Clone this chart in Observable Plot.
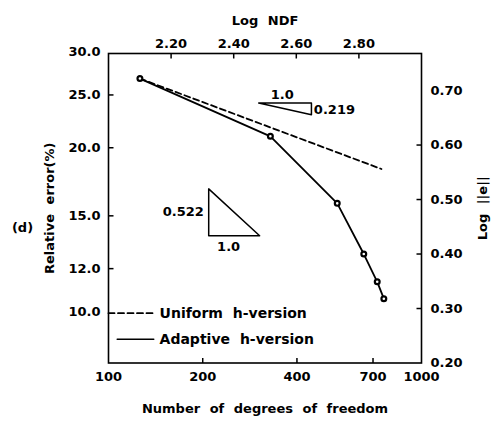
<!DOCTYPE html>
<html><head><meta charset="utf-8">
<script src="https://cdn.jsdelivr.net/npm/d3@7"></script>
<script src="https://cdn.jsdelivr.net/npm/@observablehq/plot@0.6"></script>
<style>body{margin:0;background:#fff}svg{display:block}</style>
</head><body><div id="chart"></div>
<script>
// Adaptive h-version (NDF, Log||e||)
const adaptiveNDF = [126, 329, 538, 654, 722, 758];
const adaptiveLogE = [0.722, 0.616, 0.493, 0.400, 0.349, 0.318];
// Uniform h-version
const uniformNDF = [126, 745];
const uniformLogE = [0.722, 0.556];
// Axis ticks
const bottomTicks = [100, 200, 400, 700, 1000];
const topTicks = [2.2, 2.4, 2.6, 2.8];
const rightTicks = [0.2, 0.3, 0.4, 0.5, 0.6, 0.7];
const leftTicks = [10, 12, 15, 20, 25, 30];
const errOffset = 0.706; // Log||e|| = log10(relative error %) - offset
// Slope triangles (NDF, Log||e||)
const triUpperNDF = [302, 445, 445, 302];
const triUpperLogE = [0.677, 0.677, 0.6555, 0.677];
const triLowerNDF = [209, 209, 304, 209];
const triLowerLogE = [0.5195, 0.4336, 0.4336, 0.5195];
const runLabels = ["1.0", "1.0"];
const runLabelNDF = [359, 242];
const runLabelLogE = [0.693, 0.4127];
const riseUpperLabel = "0.219", riseUpperNDF = 453, riseUpperLogE = 0.665;
const riseLowerLabel = "0.522", riseLowerNDF = 201.6, riseLowerLogE = 0.4767;
// Legend
const legendNames = ["Uniform h-version", "Adaptive h-version"];
const legendLineNDF = [[100, 139.5], [106.6, 139.5]];
const legendLogE = [0.2915, 0.2437];
const legendTextNDF = 145.6;

const W = 491, H = 425, mL = 108, mR = 70, mT = 53, mB = 62.5;
const xDomain = [100, 1000], yDomain = [0.2, 0.768];
const pw = W - mL - mR, ph = H - mT - mB;
const TICK = 5; // tick length in pixels
const tx = 10 ** ((TICK / pw) * Math.log10(xDomain[1] / xDomain[0])); // x factor for a tick
const ty = (TICK / ph) * (yDomain[1] - yDomain[0]);                   // y offset for a tick

const rows = (xs, ys) => xs.map((x, i) => ({x, y: ys[i]}));
const adaptive = rows(adaptiveNDF, adaptiveLogE);
const uniform = rows(uniformNDF, uniformLogE);
const triU = rows(triUpperNDF, triUpperLogE);
const triL = rows(triLowerNDF, triLowerLogE);
const runText = runLabels.map((t, i) => ({t, x: runLabelNDF[i], y: runLabelLogE[i]}));
const legDash = rows(legendLineNDF[0], [legendLogE[0], legendLogE[0]]);
const legSolid = rows(legendLineNDF[1], [legendLogE[1], legendLogE[1]]);
const legText = legendNames.map((t, i) => ({t, x: legendTextNDF, y: legendLogE[i]}));

const inner = a => a.slice(1, -1);
const leftPos = leftTicks.map(v => Math.log10(v) - errOffset);
const topPos = topTicks.map(v => 10 ** v);
const tk = {stroke: "black", strokeWidth: 1.5};
const FS = 13;

const chart = Plot.plot({
  width: W, height: H,
  marginLeft: mL, marginRight: mR, marginTop: mT, marginBottom: mB,
  style: {fontFamily: "DejaVu Sans", fontSize: FS + "px", fontWeight: "bold", color: "black", background: "white", wordSpacing: "5px"},
  x: {type: "log", domain: xDomain, axis: null},
  y: {domain: yDomain, axis: null},
  marks: [
    Plot.frame({stroke: "black", strokeWidth: 1.6}),
    // inward tick marks
    Plot.link(inner(bottomTicks), {...tk, x1: d => d, x2: d => d, y1: () => yDomain[0], y2: () => yDomain[0] + ty}),
    Plot.link(topPos, {...tk, x1: d => d, x2: d => d, y1: () => yDomain[1], y2: () => yDomain[1] - ty}),
    Plot.link(inner(leftPos), {...tk, x1: () => xDomain[0], x2: () => xDomain[0] * tx, y1: d => d, y2: d => d}),
    Plot.link(inner(rightTicks), {...tk, x1: () => xDomain[1], x2: () => xDomain[1] / tx, y1: d => d, y2: d => d}),
    // tick labels
    Plot.text(bottomTicks, {x: d => d, text: d => String(d), frameAnchor: "bottom", textAnchor: "middle", dy: 17.5}),
    Plot.text(topPos, {x: d => d, text: d => Math.log10(d).toFixed(2), frameAnchor: "top", textAnchor: "middle", dy: -14.5}),
    Plot.text(leftPos, {y: d => d, text: d => (10 ** (d + errOffset)).toFixed(1), frameAnchor: "left", textAnchor: "end", dx: -8}),
    Plot.text(rightTicks, {y: d => d, text: d => d.toFixed(2), frameAnchor: "right", textAnchor: "start", dx: 9}),
    // titles
    Plot.text(["Number of degrees of freedom"], {text: d => d, frameAnchor: "bottom", textAnchor: "middle", dy: 50}),
    Plot.text(["Log NDF"], {text: d => d, frameAnchor: "top", textAnchor: "middle", dy: -38}),
    Plot.text(["Relative error(%)"], {text: d => d, frameAnchor: "left", textAnchor: "middle", rotate: -90, dx: -59}),
    Plot.text(["Log ||e||"], {text: d => d, frameAnchor: "right", textAnchor: "middle", rotate: -90, dx: 61}),
    Plot.text(["(d)"], {text: d => d, frameAnchor: "left", textAnchor: "middle", dx: -86, dy: 20}),
    // data
    Plot.line(uniform, {x: "x", y: "y", stroke: "black", strokeWidth: 1.8, strokeDasharray: "6,3.5"}),
    Plot.line(adaptive, {x: "x", y: "y", stroke: "black", strokeWidth: 1.8}),
    Plot.dot(adaptive, {x: "x", y: "y", r: 2.4, fill: "white", stroke: "black", strokeWidth: 2.2}),
    // slope triangles
    Plot.line(triU, {x: "x", y: "y", stroke: "black", strokeWidth: 1.5}),
    Plot.line(triL, {x: "x", y: "y", stroke: "black", strokeWidth: 1.5}),
    Plot.text(runText, {x: "x", y: "y", text: "t", textAnchor: "middle"}),
    Plot.text([riseUpperLabel], {x: () => riseUpperNDF, y: () => riseUpperLogE, text: d => d, textAnchor: "start"}),
    Plot.text([riseLowerLabel], {x: () => riseLowerNDF, y: () => riseLowerLogE, text: d => d, textAnchor: "end"}),
    // legend
    Plot.line(legDash, {x: "x", y: "y", stroke: "black", strokeWidth: 1.8, strokeDasharray: "6,3.5"}),
    Plot.line(legSolid, {x: "x", y: "y", stroke: "black", strokeWidth: 1.5}),
    Plot.text(legText, {x: "x", y: "y", text: "t", textAnchor: "start", fontSize: 14})
  ]
});
document.getElementById("chart").appendChild(chart);
</script>
</body></html>
